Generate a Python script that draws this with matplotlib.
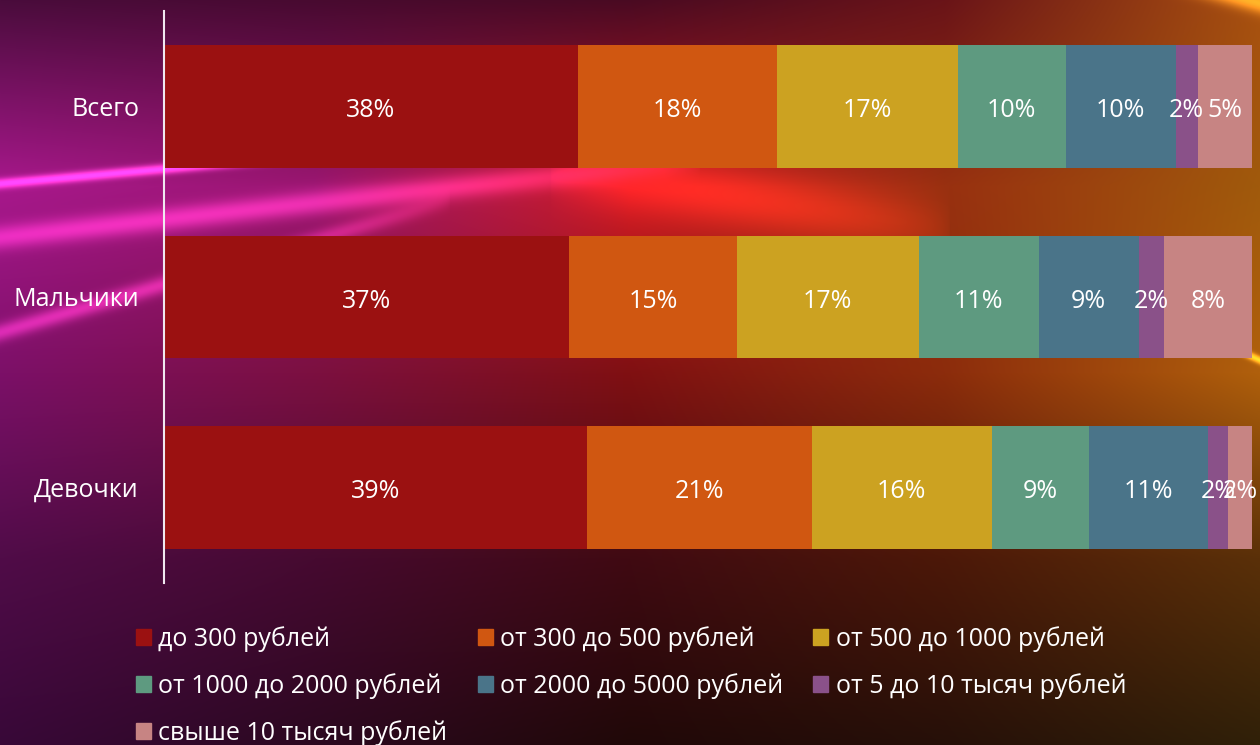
import numpy as np
import matplotlib.pyplot as plt
from matplotlib.patches import Patch

plt.rcParams['font.family'] = ['Open Sans', 'DejaVu Sans']

# Data (shares in %)
groups = ["Всего", "Мальчики", "Девочки"]
series_names = ["до 300 рублей", "от 300 до 500 рублей", "от 500 до 1000 рублей",
                "от 1000 до 2000 рублей", "от 2000 до 5000 рублей",
                "от 5 до 10 тысяч рублей", "свыше 10 тысяч рублей"]
s_300 = [38.0, 37.2, 38.8]
s_300_500 = [18.3, 15.4, 20.7]
s_500_1000 = [16.6, 16.7, 16.5]
s_1000_2000 = [9.9, 11.0, 8.9]
s_2000_5000 = [10.1, 9.2, 11.0]
s_5_10k = [2.0, 2.3, 1.8]
s_10k = [5.0, 8.1, 2.2]
colors = ["#9b1111", "#d05711", "#cca221", "#5e9a80", "#4a7489", "#8a5189", "#c78483"]

W, H = 1260, 745
fig = plt.figure(figsize=(12.6, 7.45), dpi=100)

# background gradient with light streaks
cy = [0.0, 0.25, 0.5, 0.75, 1.0]
cx = [0.0, 0.25, 0.5, 0.75, 1.0]
ctrl = [
    ["#4a0c3c", "#480a30", "#4a0a22", "#6a1418", "#a85010"],
    ["#a8188c", "#9a1670", "#d01c24", "#983010", "#a05a0c"],
    ["#7c1068", "#7c1040", "#801012", "#8c2c0c", "#b0600c"],
    ["#500c48", "#460a30", "#400a12", "#4c1808", "#5a3008"],
    ["#380838", "#2c0820", "#200808", "#261008", "#302008"],
]
ctrl_rgb = np.array([[[int(c[i:i + 2], 16) / 255 for i in (1, 3, 5)] for c in row] for row in ctrl])
xs = np.linspace(0, 1, W)
ys = np.linspace(0, 1, H)
rows = np.array([[np.interp(xs, cx, ctrl_rgb[r, :, ch]) for ch in range(3)] for r in range(5)])
bg = np.zeros((H, W, 3))
for ch in range(3):
    for j in range(W):
        bg[:, j, ch] = np.interp(ys, cy, rows[:, ch, j])

X, Y = np.meshgrid(np.arange(W), np.arange(H))


def streak(x0, y0, x1, y1, width, color, strength):
    slope = (y1 - y0) / (x1 - x0)
    yl = y0 + slope * (X - x0)
    t = (X - x0) / (x1 - x0)
    fade = np.where((t >= 0) & (t <= 1), np.sin(np.clip(t, 0, 1) * np.pi) ** 0.5, 0)
    g = np.exp(-((Y - yl) / width) ** 2) * fade
    for ch in range(3):
        bg[:, :, ch] += g * strength * color[ch]


streak(-300, 210, 650, 125, 5, (1.0, 0.35, 0.9), 0.6)
streak(-300, 270, 700, 160, 12, (1.0, 0.3, 0.8), 0.35)
streak(-300, 420, 450, 200, 9, (1.0, 0.3, 0.8), 0.35)
streak(550, 170, 950, 230, 30, (1.0, 0.2, 0.1), 0.25)
streak(1130, 300, 1390, 420, 4, (1.0, 0.85, 0.2), 0.6)
streak(1100, -40, 1400, 40, 10, (1.0, 0.8, 0.2), 0.5)
bg = np.clip(bg, 0, 1)

bax = fig.add_axes([0, 0, 1, 1])
bax.imshow(bg, aspect='auto', extent=(0, 1, 0, 1))
bax.axis('off')

ax = fig.add_axes([164 / W, 1 - 583 / H, (1252 - 164) / W, (583 - 11) / H])
ax.patch.set_alpha(0)

series = [s_300, s_300_500, s_500_1000, s_1000_2000, s_2000_5000, s_5_10k, s_10k]
ypos = np.arange(len(groups))
left = np.zeros(len(groups))
for vals, col in zip(series, colors):
    vals = np.array(vals)
    bars = ax.barh(ypos, vals, left=left, height=0.645, color=col)
    labs = ax.bar_label(bars, labels=["%.0f%%" % v for v in vals], label_type='center',
                        color='white', fontsize=18)
    for lab in labs:
        lab.xyann = (0, -3)
    left += vals

ax.set_xlim(0, left.max())
ax.set_ylim(2.5, -0.5)
ax.set_yticks(ypos)
ax.set_yticklabels(groups, fontsize=18, color='white')
ax.tick_params(axis='y', length=0, pad=18)
ax.set_xticks([])
for s in ['top', 'right', 'bottom']:
    ax.spines[s].set_visible(False)
ax.spines['left'].set_color('#f0e8f0')
ax.spines['left'].set_linewidth(1.5)

handles = [Patch(color=c, label=n) for c, n in zip(colors, series_names)]
order = [0, 3, 6, 1, 4, 2, 5]
fig.legend([handles[i] for i in order], [series_names[i] for i in order],
           ncol=3, loc='upper left', bbox_to_anchor=(126 / W, 1 - 616 / H),
           frameon=False, fontsize=18, labelcolor='white',
           handlelength=0.6, handleheight=0.6, handletextpad=0.3,
           columnspacing=1.2, labelspacing=0.85, borderaxespad=0)

fig.savefig("out.png", dpi=100)
